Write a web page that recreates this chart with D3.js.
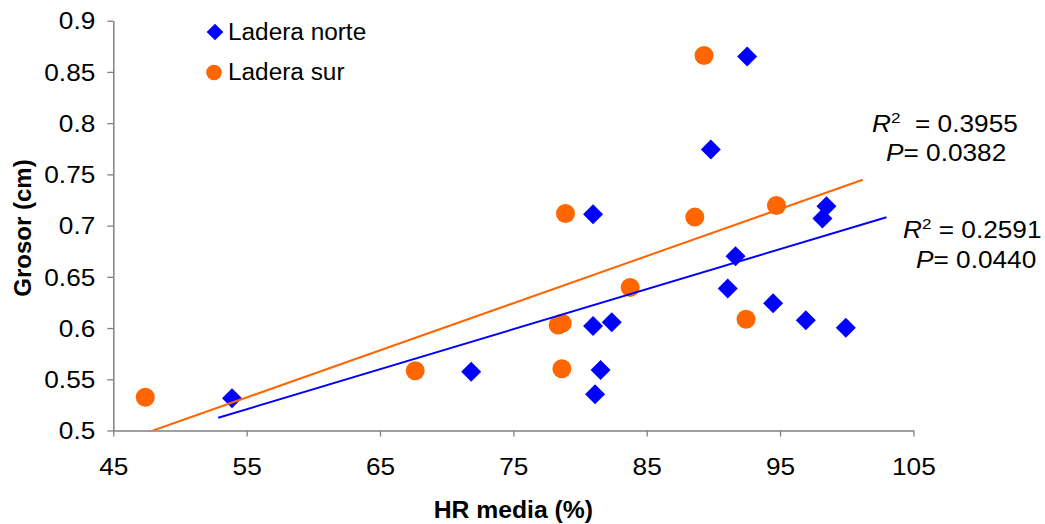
<!DOCTYPE html>
<html>
<head>
<meta charset="utf-8">
<script src="https://cdn.jsdelivr.net/npm/d3@7"></script>
<style>
  html, body { margin: 0; padding: 0; background: #fff; }
  svg { display: block; font-family: "Liberation Sans", Arial, sans-serif; }
</style>
</head>
<body>
<svg id="chart" width="1045" height="524"></svg>
<script>
// Relative humidity (%) and thickness (cm) per slope
const hrNorte = [53.9, 71.84, 81.13, 81.54, 80.98, 82.38, 80.98, 89.81, 92.53, 91.66, 91.08, 94.48, 96.93, 99.93, 98.18, 98.48];
const grosorNorte = [0.5314, 0.5574, 0.5353, 0.559, 0.602, 0.6056, 0.7112, 0.7743, 0.8651, 0.6702, 0.6387, 0.6241, 0.6075, 0.6003, 0.707, 0.719];
const hrSur = [47.4, 67.64, 78.64, 78.36, 78.66, 78.91, 83.76, 88.61, 89.3, 92.45, 94.73];
const grosorSur = [0.5324, 0.5583, 0.5603, 0.6029, 0.6046, 0.7119, 0.6397, 0.7083, 0.8661, 0.6085, 0.7197];

// Extent over which each fitted line is drawn (with forecast)
const trendNorteRange = [52.87, 102.98];
const trendSurRange = [46, 101.2];

const seriesNames = ["Ladera norte", "Ladera sur"];
const statsNorte = { r2: "0.2591", p: "0.0440" };
const statsSur = { r2: "0.3955", p: "0.0382" };

const xTicks = [45, 55, 65, 75, 85, 95, 105];
const yTicks = [0.5, 0.55, 0.6, 0.65, 0.7, 0.75, 0.8, 0.85, 0.9];

const colNorte = "#0000FF";
const colSur = "#FF6600";
const axisCol = "#808080";
const textWiden = 1.14;   // horizontal stretch of the regular labels

const svg = d3.select("#chart");
const plotLeft = 113.3, plotRight = 913.4, plotTop = 20.7, plotBottom = 430.5;

const x = d3.scaleLinear().domain([45, 105]).range([plotLeft, plotRight]);
const y = d3.scaleLinear().domain([0.5, 0.9]).range([plotBottom, plotTop]);

// Least-squares fit
function fit(xs, ys) {
  const mx = d3.mean(xs), my = d3.mean(ys);
  let sxy = 0, sxx = 0;
  xs.forEach((v, i) => { sxy += (v - mx) * (ys[i] - my); sxx += (v - mx) * (v - mx); });
  const b = sxy / sxx;
  return { slope: b, intercept: my - b * mx };
}

// Text placed at (tx, ty) and stretched horizontally around its anchor
function label(parent, tx, ty, k) {
  return parent.append("text").attr("x", 0).attr("y", 0)
    .attr("transform", `translate(${tx},${ty}) scale(${k},1)`);
}

svg.append("defs").append("clipPath").attr("id", "plotClip")
  .append("rect").attr("x", plotLeft).attr("y", plotTop)
  .attr("width", plotRight - plotLeft).attr("height", plotBottom - plotTop);

// Axes
const xAxis = d3.axisBottom(x).tickValues(xTicks).tickSize(6).tickSizeOuter(0).tickFormat(d3.format("d"));
const yAxis = d3.axisLeft(y).tickValues(yTicks).tickSize(6).tickSizeOuter(0).tickFormat(d => String(+d.toFixed(2)));

const gx = svg.append("g").attr("transform", `translate(0,${plotBottom})`).call(xAxis);
const gy = svg.append("g").attr("transform", `translate(${plotLeft},0)`).call(yAxis);

[gx, gy].forEach(g => {
  g.select(".domain").attr("stroke", axisCol).attr("stroke-width", 1.5);
  g.selectAll(".tick line").attr("stroke", axisCol).attr("stroke-width", 1.3);
  g.selectAll(".tick text").attr("fill", "#000").style("font-size", "23px")
    .style("font-family", "'Liberation Sans', Arial, sans-serif");
});
gx.selectAll(".tick text").attr("y", 0).attr("dy", 0)
  .attr("transform", `translate(0,44) scale(${textWiden},1)`);
gy.selectAll(".tick text").attr("x", 0).attr("dy", "0.36em")
  .attr("transform", `translate(-18,0) scale(${textWiden},1)`);

// Axis titles
label(svg, (plotLeft + plotRight) / 2, 518, 1.03)
  .attr("text-anchor", "middle").style("font-size", "24px").style("font-weight", "bold")
  .text("HR media (%)");
svg.append("text")
  .attr("transform", `translate(31,228) rotate(-90)`)
  .attr("text-anchor", "middle").style("font-size", "24px").style("font-weight", "bold")
  .text("Grosor (cm)");

const plot = svg.append("g");

const diamond = d3.symbol().type(d3.symbolSquare).size(200);

// Ladera norte points
plot.selectAll(".norte").data(hrNorte.map((v, i) => [v, grosorNorte[i]]))
  .join("path").attr("class", "norte")
  .attr("d", diamond)
  .attr("transform", d => `translate(${x(d[0])},${y(d[1])}) rotate(45)`)
  .attr("fill", colNorte);

// Ladera sur points
plot.selectAll(".sur").data(hrSur.map((v, i) => [v, grosorSur[i]]))
  .join("circle").attr("class", "sur")
  .attr("cx", d => x(d[0])).attr("cy", d => y(d[1])).attr("r", 9.5)
  .attr("fill", colSur);

// Trend lines
const trendG = svg.append("g").attr("clip-path", "url(#plotClip)");
function drawTrend(xs, ys, range, color) {
  const f = fit(xs, ys);
  const pts = range.map(v => [v, f.intercept + f.slope * v]);
  trendG.append("path")
    .attr("d", d3.line().x(d => x(d[0])).y(d => y(d[1]))(pts))
    .attr("stroke", color).attr("stroke-width", 2).attr("fill", "none");
}
drawTrend(hrNorte, grosorNorte, trendNorteRange, colNorte);
drawTrend(hrSur, grosorSur, trendSurRange, colSur);

// Legend
const legend = svg.append("g");
legend.append("path")
  .attr("d", d3.symbol().type(d3.symbolSquare).size(140)())
  .attr("transform", "translate(215,32) rotate(45)").attr("fill", colNorte);
label(legend, 228, 40, 1.06).style("font-size", "23px").text(seriesNames[0]);
legend.append("circle").attr("cx", 214).attr("cy", 72.5).attr("r", 7.8).attr("fill", colSur);
label(legend, 228, 80, 1.06).style("font-size", "23px").text(seriesNames[1]);

// Fit statistics
function stats(xR, yR, xP, yP, s, gap) {
  const t1 = label(svg, xR, yR, textWiden).style("font-size", "23px");
  t1.append("tspan").style("font-style", "italic").text("R");
  t1.append("tspan").attr("dy", -9).style("font-size", "15px").text("2");
  t1.append("tspan").attr("dy", 9).text(gap + "= " + s.r2);
  const t2 = label(svg, xP, yP, textWiden).style("font-size", "23px");
  t2.append("tspan").style("font-style", "italic").text("P");
  t2.append("tspan").text("= " + s.p);
}
stats(872, 132, 886, 161, statsSur, "\u00a0 ");
stats(903, 238, 916, 268, statsNorte, " ");
</script>
</body>
</html>
